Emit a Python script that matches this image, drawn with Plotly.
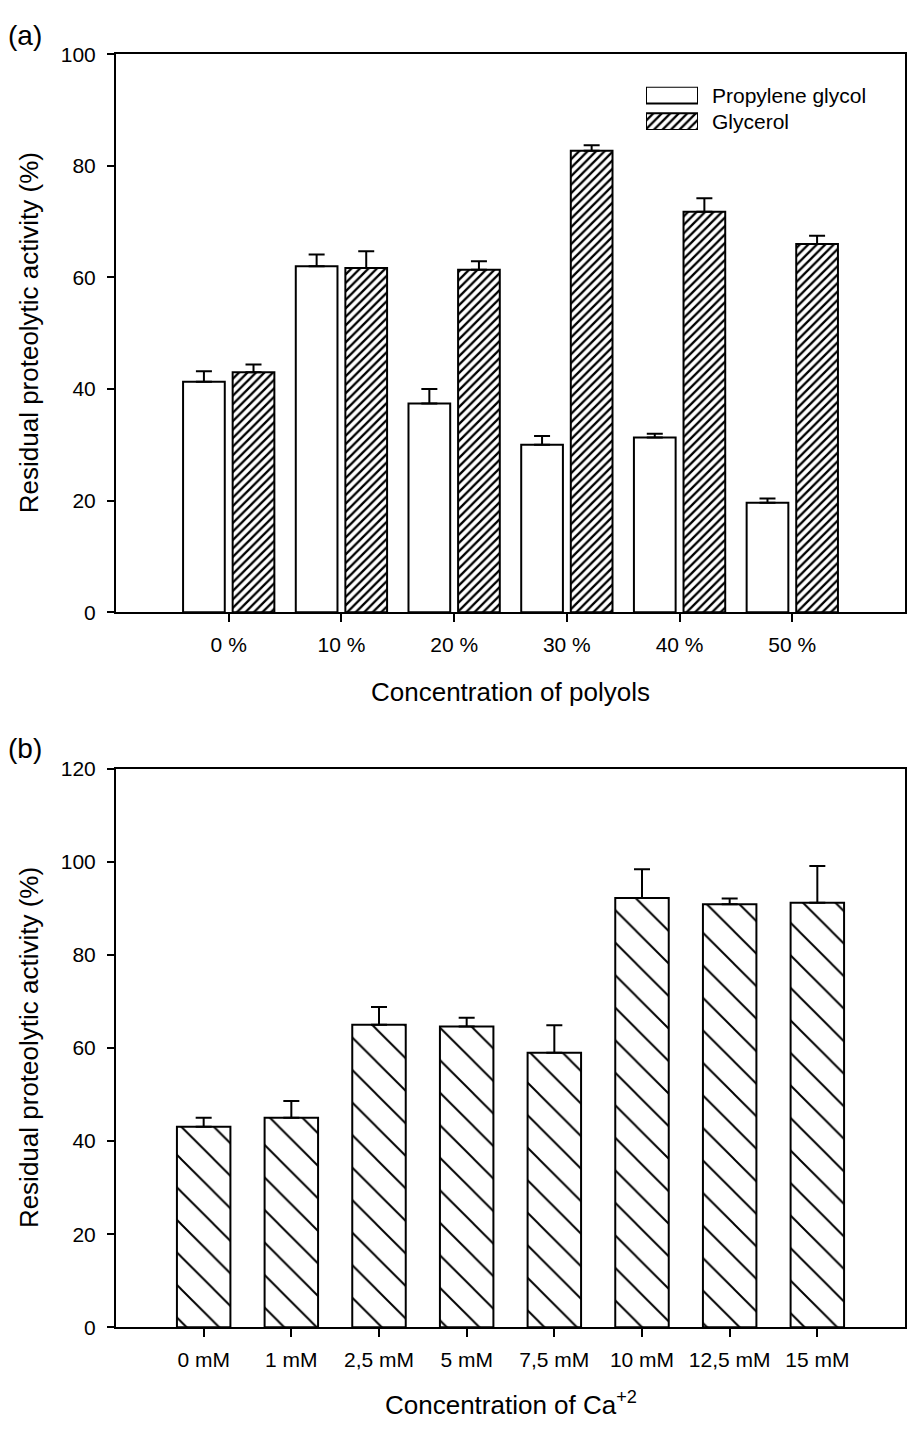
import plotly.graph_objects as go

# ---- data -------------------------------------------------------------
polyol_conc = ["0 %", "10 %", "20 %", "30 %", "40 %", "50 %"]
series_names = ["Propylene glycol", "Glycerol"]
propylene_glycol = [41.3, 62.0, 37.4, 30.0, 31.3, 19.6]
propylene_glycol_err = [1.9, 2.1, 2.6, 1.6, 0.7, 0.8]
glycerol = [43.0, 61.7, 61.4, 82.7, 71.8, 66.0]
glycerol_err = [1.4, 3.0, 1.5, 1.0, 2.4, 1.5]

calcium_conc = ["0 mM", "1 mM", "2,5 mM", "5 mM", "7,5 mM", "10 mM", "12,5 mM", "15 mM"]
calcium_activity = [43.1, 45.0, 65.0, 64.6, 59.0, 92.2, 90.9, 91.2]
calcium_err = [1.9, 3.6, 3.8, 1.9, 5.9, 6.2, 1.2, 7.9]

# ---- page geometry (pixels) -----------------------------------------
W, H = 907, 1435
FONT = "Arial, Liberation Sans, sans-serif"


def fx(px):
    return px / W


def fy(px):
    return 1 - px / H


fig = go.Figure()

common_bar = dict(marker_line_color="black", marker_line_width=2,
                  hoverinfo="skip", showlegend=False)

dense_hatch = dict(shape="/", size=6, solidity=0.38, fgopacity=1,
                   fgcolor="black", bgcolor="white", fillmode="overlay")
wide_hatch = dict(shape="\\", size=23, solidity=0.085, fgopacity=1,
                  fgcolor="black", bgcolor="white", fillmode="overlay")


def err(vals):
    return dict(type="data", array=vals, arrayminus=[0] * len(vals),
                symmetric=False, color="black", thickness=2, width=8)


# panel (a): polyols
fig.add_trace(go.Bar(
    x=polyol_conc, y=propylene_glycol, name=series_names[0],
    width=0.37, offset=-0.405,
    marker=dict(color="white"),
    error_y=err(propylene_glycol_err),
    xaxis="x", yaxis="y", **common_bar))
fig.add_trace(go.Bar(
    x=polyol_conc, y=glycerol, name=series_names[1],
    width=0.37, offset=0.035,
    marker=dict(color="white", pattern=dense_hatch),
    error_y=err(glycerol_err),
    xaxis="x", yaxis="y", **common_bar))

# panel (b): calcium
fig.add_trace(go.Bar(
    x=calcium_conc, y=calcium_activity, name="Ca",
    width=0.61,
    marker=dict(color="white", pattern=wide_hatch),
    error_y=err(calcium_err),
    xaxis="x2", yaxis="y2", **common_bar))

# legend keys for panel (a), drawn as bars on a small auxiliary axis
legend_rows = series_names[::-1]
fig.add_trace(go.Bar(
    y=legend_rows, x=[1] * len(legend_rows), orientation="h", width=0.63,
    marker=dict(color="white",
                pattern=dict(dense_hatch, shape=["/", ""])),
    xaxis="x3", yaxis="y3", **common_bar))

axis_common = dict(showline=True, linecolor="black", linewidth=2, mirror=True,
                   ticks="outside", tickcolor="black", tickwidth=2,
                   showgrid=False, zeroline=False,
                   tickfont=dict(family=FONT, size=21, color="black"))

x_dom = [fx(116), fx(905)]
fig.update_layout(
    width=W, height=H,
    margin=dict(l=0, r=0, t=0, b=0),
    paper_bgcolor="white", plot_bgcolor="white",
    barmode="overlay",
    xaxis=dict(domain=x_dom, range=[-1, 6], type="category", ticklen=8,
               ticklabelstandoff=5, **axis_common),
    yaxis=dict(domain=[fy(610), fy(43)], range=[0, 100], dtick=20, ticklen=7,
               ticklabelstandoff=7, **axis_common),
    xaxis2=dict(domain=x_dom, range=[-1, 8], type="category", ticklen=8,
                ticklabelstandoff=5, anchor="y2", **axis_common),
    yaxis2=dict(domain=[fy(1336.7), fy(769)], range=[0, 120], dtick=20, ticklen=7,
                ticklabelstandoff=7, anchor="x2", **axis_common),
    xaxis3=dict(domain=[fx(646), fx(698)], range=[0, 1], visible=False,
                anchor="y3", fixedrange=True),
    yaxis3=dict(domain=[fy(120), fy(76)], range=[-0.315, 1.315], visible=False,
                type="category", anchor="x3", fixedrange=True),
)

title_font = dict(family=FONT, size=26, color="black")
label_font = dict(family=FONT, size=28, color="black")
annotations = [
    dict(text="(a)", x=fx(25), y=fy(24), font=label_font),
    dict(text="(b)", x=fx(25), y=fy(748), font=label_font),
    dict(text="Residual proteolytic activity (%)", x=fx(29), y=fy(326.5),
         textangle=-90, font=title_font),
    dict(text="Residual proteolytic activity (%)", x=fx(29), y=fy(1053),
         textangle=-90, font=title_font),
    dict(text="Concentration of polyols", x=fx(510.5), y=fy(691), font=title_font),
    dict(text="Concentration of Ca<sup>+2</sup>", x=fx(510.5), y=fy(1414), font=title_font),
]
for i, name in enumerate(series_names):
    annotations.append(dict(text=name, x=fx(710), y=fy(84.5 + 27 * i), xanchor="left",
                            font=dict(family=FONT, size=21, color="black")))
for a in annotations:
    a.setdefault("xanchor", "center")
    a.update(xref="paper", yref="paper", yanchor="middle", showarrow=False)
fig.update_layout(annotations=annotations)

fig.write_html("out.html")
